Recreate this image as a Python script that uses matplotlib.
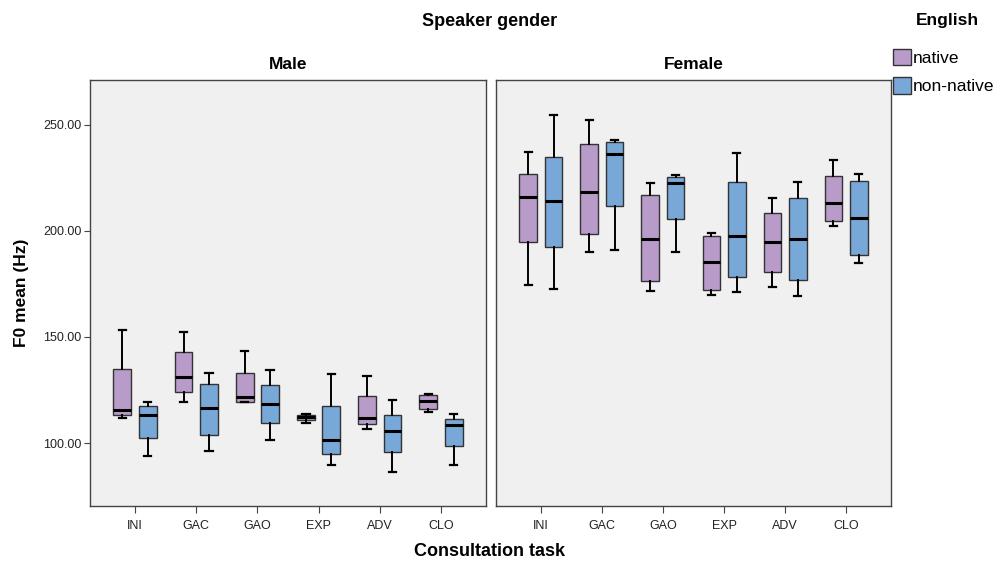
import matplotlib.pyplot as plt
from matplotlib.patches import Patch

plt.rcParams['font.family'] = ['Liberation Sans', 'DejaVu Sans']

tasks = ["INI", "GAC", "GAO", "EXP", "ADV", "CLO"]
genders = ["Male", "Female"]
groups = ["native", "non-native"]
colors = {"native": "#B99BCA", "non-native": "#78A8D8"}

# per task: (whisker low, q1, median, q3, whisker high)
male_native = [
    (111.6, 113.4, 115.6, 134.8, 153.3),
    (119.3, 123.9, 131.0, 142.9, 152.4),
    (119.2, 119.2, 121.5, 133.2, 143.2),
    (109.4, 110.8, 112.1, 113.4, 113.7),
    (106.4, 109.0, 111.8, 122.2, 131.6),
    (114.6, 116.2, 120.0, 122.6, 123.1),
]
male_nonnative = [
    (94.0, 102.5, 113.2, 117.3, 119.2),
    (96.4, 103.6, 116.7, 127.8, 133.2),
    (101.3, 109.3, 118.4, 127.2, 134.6),
    (89.5, 95.0, 101.4, 117.6, 132.7),
    (86.3, 95.6, 105.7, 113.2, 120.1),
    (89.5, 98.7, 108.5, 111.2, 113.8),
]
female_native = [
    (174.7, 194.8, 216.2, 227.1, 237.3),
    (190.1, 198.6, 218.6, 240.9, 252.2),
    (171.7, 176.4, 196.4, 217.0, 222.6),
    (170.0, 172.2, 185.5, 197.8, 199.1),
    (173.6, 180.8, 194.8, 208.5, 215.6),
    (202.2, 204.7, 213.2, 225.9, 233.3),
]
female_nonnative = [
    (172.5, 192.6, 214.3, 234.9, 254.6),
    (191.2, 211.6, 236.3, 241.8, 242.8),
    (190.1, 205.7, 222.6, 225.3, 226.3),
    (171.1, 178.1, 197.5, 223.1, 237.0),
    (169.3, 177.0, 196.2, 215.4, 223.3),
    (185.0, 188.5, 206.3, 223.7, 226.7),
]
data = {
    "Male": {"native": male_native, "non-native": male_nonnative},
    "Female": {"native": female_native, "non-native": female_nonnative},
}

fig = plt.figure(figsize=(10.01, 5.66), dpi=100)
W, H = 1001, 566
axes = []
for x0, x1 in [(90, 486), (496, 891)]:
    ax = fig.add_axes([x0 / W, 1 - 506 / H, (x1 - x0) / W, (506 - 80) / H])
    axes.append(ax)

for ax, g in zip(axes, genders):
    ax.set_facecolor("#F0F0F0")
    for k, grp in enumerate(groups):
        off = -0.207 if k == 0 else 0.207
        stats = []
        for lo, q1, med, q3, hi in data[g][grp]:
            stats.append(dict(whislo=lo, q1=q1, med=med, q3=q3, whishi=hi, fliers=[]))
        pos = [j + off for j in range(len(tasks))]
        ax.bxp(stats, positions=pos, widths=0.29, patch_artist=True, showfliers=False,
               boxprops=dict(facecolor=colors[grp], edgecolor="#333333", linewidth=1.0),
               medianprops=dict(color="black", linewidth=2.2),
               whiskerprops=dict(color="black", linewidth=1.4),
               capprops=dict(color="black", linewidth=1.6), capwidths=0.12)
    ax.set_xlim(-0.735, 5.735)
    ax.set_ylim(70.3, 271.2)
    ax.set_xticks(range(len(tasks)))
    ax.set_xticklabels(tasks, fontsize=9, color="#222222")
    ax.set_title(g, fontsize=12.5, fontweight="bold", pad=8)
    for s in ax.spines.values():
        s.set_color("#444444")
        s.set_linewidth(1.0)
    ax.tick_params(axis="x", direction="out", length=5, color="#444444", pad=5)

axes[0].set_yticks([100, 150, 200, 250])
axes[0].set_yticklabels(["100.00", "150.00", "200.00", "250.00"], fontsize=9, color="#222222")
axes[0].tick_params(axis="y", direction="out", length=4, color="#444444", pad=2)
axes[1].set_yticks([])
axes[0].set_ylabel("F0 mean (Hz)", fontsize=12.5, fontweight="bold", labelpad=10)

fig.text(490 / W, 1 - 22 / H, "Speaker gender", ha="center", va="center",
         fontsize=13, fontweight="bold")
fig.text(490 / W, 1 - 552 / H, "Consultation task", ha="center", va="center",
         fontsize=13, fontweight="bold")
fig.text(947 / W, 1 - 20 / H, "English", ha="center", va="center",
         fontsize=12.5, fontweight="bold")

handles = [Patch(facecolor=colors[g], edgecolor="#333333", label=g) for g in groups]
fig.legend(handles=handles, loc="upper left", bbox_to_anchor=(893 / W, 1 - 49 / H),
           frameon=False, fontsize=12.5, handlelength=1.05, handleheight=1.05,
           handletextpad=0.08, labelspacing=0.66, borderaxespad=0, borderpad=0)

fig.savefig("out.png", dpi=100)
